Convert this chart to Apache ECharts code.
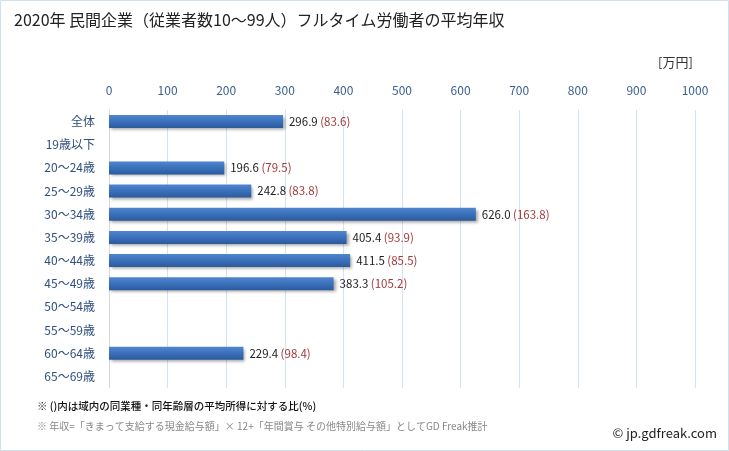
<!DOCTYPE html>
<html><head><meta charset="utf-8">
<script src="https://cdn.jsdelivr.net/npm/echarts@6/dist/echarts.min.js"></script>
<style>html,body{margin:0;padding:0;background:#fff}#c{width:729px;height:451px}</style>
</head><body><div id="c"></div>
<script>
const categories = ['全体','19歳以下','20～24歳','25～29歳','30～34歳','35～39歳','40～44歳','45～49歳','50～54歳','55～59歳','60～64歳','65～69歳'];
const values = [296.9, 0, 196.6, 242.8, 626.0, 405.4, 411.5, 383.3, 0, 0, 229.4, 0];
const ratios = [83.6, null, 79.5, 83.8, 163.8, 93.9, 85.5, 105.2, null, null, 98.4, null];
const xTicks = [0,100,200,300,400,500,600,700,800,900,1000];

const chart = echarts.init(document.getElementById('c'), null, {renderer:'canvas'});
const font = '"Noto Sans CJK JP", "Noto Sans", sans-serif';
chart.setOption({
  animation:false,
  textStyle:{fontFamily:font},
  graphic:[
    {type:'rect', shape:{x:0.5,y:0.5,width:728,height:450}, style:{fill:'none',stroke:'#cfe0f0',lineWidth:1}, silent:true},
    {type:'text', left:14, top:12, style:{text:'2020年 民間企業（従業者数10～99人）フルタイム労働者の平均年収', font:'16px '+font, fill:'#222'}},
    {type:'text', left:658, top:56, style:{text:'[万円]', font:'13px '+font, fill:'#333'}},
    {type:'text', left:37, top:401, style:{text:'※ ()内は域内の同業種・同年齢層の平均所得に対する比(%)', font:'500 10.5px '+font, fill:'#111'}},
    {type:'text', left:37, top:421, style:{text:'※ 年収=「きまって支給する現金給与額」× 12+「年間賞与 その他特別給与額」としてGD Freak推計', font:'10px '+font, fill:'#888'}},
    {type:'text', right:12, top:427, style:{text:'© jp.gdfreak.com', font:'13px '+font, fill:'#222'}}
  ],
  grid:{left:109, right:34, top:110, height:278, containLabel:false},
  xAxis:{type:'value', position:'top', min:0, max:1000, interval:100,
    axisLine:{show:false}, axisTick:{show:false},
    axisLabel:{color:'#3a5f8f', fontSize:12, margin:14, formatter:v=>xTicks.includes(v)?String(v):''},
    splitLine:{show:true, lineStyle:{color:'#d5e3f1', width:1}}},
  yAxis:{type:'category', inverse:true, data:categories,
    axisLine:{show:true, lineStyle:{color:'#d8d8d8'}}, axisTick:{show:false},
    axisLabel:{color:'#2f4f7f', fontSize:12, margin:14}},
  series:[{type:'bar', data:values, barWidth:13,
    itemStyle:{color:new echarts.graphic.LinearGradient(0,0,0,1,[{offset:0,color:'#4f86cf'},{offset:0.5,color:'#3a70bb'},{offset:1,color:'#2b5a9c'}]),
      shadowColor:'rgba(0,0,0,0.35)', shadowBlur:3, shadowOffsetX:2, shadowOffsetY:2},
    label:{show:true, position:'right', distance:6, fontSize:11,
      formatter:p=>{ if(!values[p.dataIndex]) return ''; return '{a|'+values[p.dataIndex].toFixed(1)+'} {b|('+ratios[p.dataIndex].toFixed(1)+')}'; },
      rich:{a:{color:'#222',fontSize:11.5,fontFamily:font}, b:{color:'#a33a3a',fontSize:11.5,fontFamily:font}}}
  }]
});
</script></body></html>
